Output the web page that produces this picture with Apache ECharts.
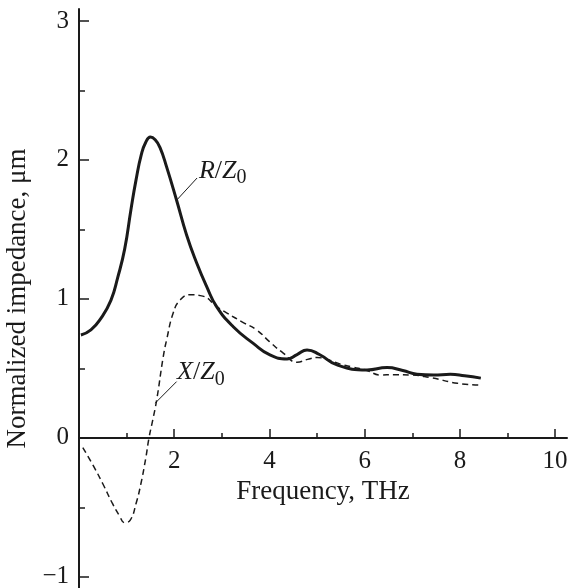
<!DOCTYPE html>
<html><head><meta charset="utf-8">
<script src="https://cdn.jsdelivr.net/npm/echarts@6/dist/echarts.min.js"></script>
<style>html,body{margin:0;padding:0;background:#fff}#c{width:571px;height:588px}</style>
</head><body><div id="c"></div>
<script>
// Data
const freqR = [0.04,0.25,0.46,0.67,0.81,0.96,1.09,1.2,1.31,1.4,1.5,1.6,1.7,1.84,2.05,2.26,2.47,2.68,2.89,3.24,3.66,4.01,4.37,4.58,4.79,5.05,5.42,6.05,6.47,6.8,7.1,7.45,7.8,8.1,8.44];
const valR  = [0.74,0.777,0.86,0.99,1.15,1.36,1.64,1.86,2.04,2.125,2.165,2.145,2.09,1.95,1.71,1.46,1.26,1.09,0.945,0.80,0.68,0.597,0.568,0.6,0.633,0.6,0.525,0.489,0.506,0.485,0.458,0.452,0.458,0.447,0.43];
const freqX = [0.08,0.3,0.5,0.7,0.85,0.96,1.08,1.2,1.3,1.4,1.47,1.55,1.63,1.77,1.84,1.98,2.12,2.33,2.6,2.89,3.1,3.45,3.73,4.0,4.29,4.58,4.8,5.0,5.25,5.5,5.75,6.05,6.33,6.6,6.96,7.38,7.95,8.44];
const valX  = [-0.07,-0.2,-0.33,-0.47,-0.56,-0.61,-0.59,-0.47,-0.33,-0.15,0,0.13,0.27,0.585,0.705,0.9,0.99,1.03,1.02,0.945,0.9,0.83,0.777,0.693,0.61,0.545,0.565,0.578,0.56,0.53,0.51,0.485,0.453,0.455,0.453,0.434,0.393,0.38];
const xLabelTicks = [2,4,6,8,10];
const xMinorTicks = [1,3,5,7,9];
const yLabelTicks = [-1,0,1,2,3];
const yMinorTicks = [-0.5,0.5,1.5,2.5];
const xName = 'Frequency, THz';
const yName = 'Normalized impedance, μm';
// Annotations (data coords)
const annR = {text:['R','Z','0'], at:[2.52,1.92], leader:[[2.05,1.71],[2.48,1.87]]};
const annX = {text:['X','Z','0'], at:[2.06,0.47], leader:[[1.6,0.25],[2.05,0.405]]};

const FONT = 'Liberation Serif';
const INK = '#1a1a1a';
const pair = (xs, ys) => xs.map((x,i)=>[x, ys[i]]);

const W = 571, H = 588;
const G = {left:79, right:4, top:9, bottom:0};
const X_MIN = 0, X_MAX = 10.25, Y_MIN = -1.08, Y_MAX = 3.086;
const gridH = H - G.top - G.bottom;
const xAxisOffset = -gridH * (0 - Y_MIN) / (Y_MAX - Y_MIN);

const chart = echarts.init(document.getElementById('c'), null, {renderer:'canvas'});
const baseX = {type:'value', min:X_MIN, max:X_MAX, gridIndex:0, splitLine:{show:false}, position:'bottom', offset:xAxisOffset};
const baseY = {type:'value', min:Y_MIN, max:Y_MAX, gridIndex:0, splitLine:{show:false}, position:'left'};
chart.setOption({
  animation:false,
  backgroundColor:'#fff',
  grid:Object.assign({containLabel:false, outerBoundsMode:'none'}, G),
  xAxis:[
    Object.assign({}, baseX, {
      axisLine:{show:true, onZero:false, lineStyle:{color:INK, width:2}},
      axisTick:{show:true, inside:true, length:9, lineStyle:{color:INK, width:1.5}, customValues:xLabelTicks},
      axisLabel:{show:true, customValues:xLabelTicks, margin:11, fontFamily:FONT, fontSize:25, color:INK},
      name:xName, nameLocation:'middle', nameGap:40,
      nameTextStyle:{fontFamily:FONT, fontSize:27, color:INK}
    }),
    Object.assign({}, baseX, {
      axisLine:{show:false, onZero:false},
      axisTick:{show:true, inside:true, length:5, lineStyle:{color:INK, width:1.5}, customValues:xMinorTicks},
      axisLabel:{show:false}
    })
  ],
  yAxis:[
    Object.assign({}, baseY, {
      axisLine:{show:true, onZero:false, lineStyle:{color:INK, width:2}},
      axisTick:{show:true, inside:true, length:10, lineStyle:{color:INK, width:1.5}, customValues:yLabelTicks},
      axisLabel:{show:true, customValues:yLabelTicks, margin:10, fontFamily:FONT, fontSize:25, color:INK,
        formatter:v=>String(v).replace('-','\u2212')},
      name:yName, nameLocation:'middle', nameGap:42,
      nameTextStyle:{fontFamily:FONT, fontSize:27, color:INK}
    }),
    Object.assign({}, baseY, {
      axisLine:{show:false, onZero:false},
      axisTick:{show:true, inside:true, length:6, lineStyle:{color:INK, width:1.5}, customValues:yMinorTicks},
      axisLabel:{show:false}
    })
  ],
  series:[
    {type:'line', name:'R/Z0', xAxisIndex:0, yAxisIndex:0, data:pair(freqR,valR), smooth:0.5, showSymbol:false,
     lineStyle:{color:INK, width:3}, z:3,
     markLine:{silent:true, symbol:['none','none'], label:{show:false}, lineStyle:{color:INK, width:1, type:'solid'},
       data:[[{coord:annR.leader[0]},{coord:annR.leader[1]}],[{coord:annX.leader[0]},{coord:annX.leader[1]}]]}},
    {type:'line', name:'X/Z0', xAxisIndex:0, yAxisIndex:0, data:pair(freqX,valX), smooth:0.5, showSymbol:false,
     lineStyle:{color:INK, width:1.5, type:[6,4]}, z:2}
  ]
});
function ann(a){
  const p = chart.convertToPixel({xAxisIndex:0, yAxisIndex:0}, a.at);
  return {type:'text', x:p[0], y:p[1], silent:true, style:{
    text:'{i|'+a.text[0]+'}{n|/}{i|'+a.text[1]+'}{s|'+a.text[2]+'}',
    verticalAlign:'middle', align:'left',
    rich:{
      i:{fontFamily:FONT, fontStyle:'italic', fontSize:26, fill:INK},
      n:{fontFamily:FONT, fontSize:26, fill:INK},
      s:{fontFamily:FONT, fontSize:20, fill:INK, padding:[14,0,0,0]}
    }}};
}
chart.setOption({graphic:[ann(annR), ann(annX)]});
</script></body></html>
